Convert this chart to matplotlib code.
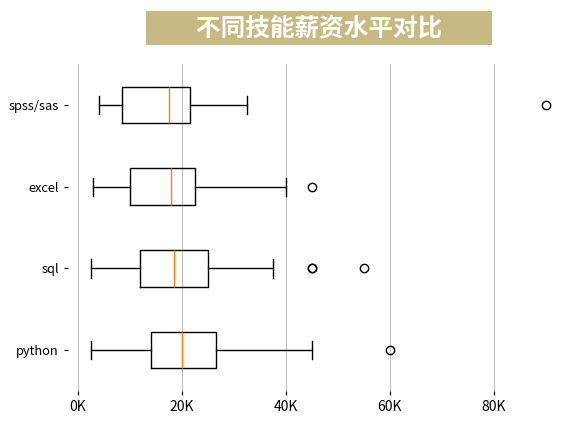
import matplotlib
matplotlib.use("Agg")
import matplotlib.pyplot as plt

plt.rcParams['font.family'] = ['Noto Sans CJK SC', 'DejaVu Sans']

categories = ['python', 'sql', 'excel', 'spss/sas']
whislo = [2.5, 2.5, 3.0, 4.0]
q1 = [14.0, 12.0, 10.0, 8.5]
med = [20.0, 18.5, 18.0, 17.5]
q3 = [26.5, 25.0, 22.5, 21.5]
whishi = [45.0, 37.5, 40.0, 32.5]
fliers = [[60.0], [45.0, 45.0, 55.0], [45.0], [90.0]]
xticks = [0, 20, 40, 60, 80]
xticklabels = ['0K', '20K', '40K', '60K', '80K']
title = '不同技能薪资水平对比'

stats = []
for i, c in enumerate(categories):
    stats.append(dict(label=c, whislo=whislo[i], q1=q1[i], med=med[i],
                      q3=q3[i], whishi=whishi[i], fliers=fliers[i]))

fig = plt.figure(figsize=(5.82, 4.23), dpi=100)
ax = fig.add_axes([0.117, 0.076, 0.86, 0.772])
ax.bxp(stats, vert=False, widths=0.45,
       medianprops=dict(color='#ff7f0e', linewidth=1),
       flierprops=dict(marker='o', markerfacecolor='none', markeredgecolor='black', markersize=6))
ax.set_xticks(xticks)
ax.set_xticklabels(xticklabels, fontsize=10)
for lab in ax.get_yticklabels():
    lab.set_fontsize(9.3)
ax.tick_params(axis='y', length=3)
ax.tick_params(axis='x', length=3)
for s in ax.spines.values():
    s.set_visible(False)
ax.grid(axis='x', color='#bdbdbd', linewidth=0.8)
ax.set_axisbelow(True)
ax.set_ylim(0.5, 4.5)

pad = ' ' * 8
fig.text(0.548, 0.934, pad + title + pad, ha='center', va='center',
         fontsize=17.7, fontweight='bold', color='white',
         bbox=dict(boxstyle='square,pad=0.2', facecolor='#c7b984', edgecolor='none'))

fig.savefig('out.png', dpi=100)
